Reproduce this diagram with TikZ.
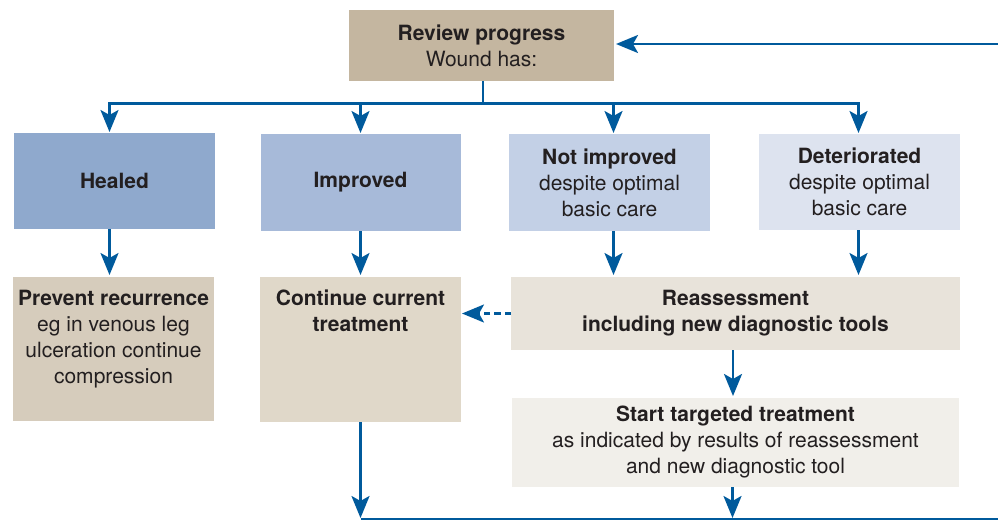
\documentclass[tikz,border=0pt]{standalone}
\usepackage{fontspec}
\setmainfont{TeX Gyre Heros}
\usetikzlibrary{arrows.meta,calc}

\definecolor{flowblue}{HTML}{005A9C}
\definecolor{ink}{HTML}{231F20}
\definecolor{reviewfill}{HTML}{C4B6A0}
\definecolor{healedfill}{HTML}{8FA9CD}
\definecolor{improvedfill}{HTML}{A7BAD9}
\definecolor{notimpfill}{HTML}{C3D0E6}
\definecolor{deterfill}{HTML}{DDE3EF}
\definecolor{preventfill}{HTML}{D6CCBC}
\definecolor{continuefill}{HTML}{E0D8C9}
\definecolor{reassessfill}{HTML}{E8E3DA}
\definecolor{startfill}{HTML}{F1EFEA}

\tikzset{
  box/.style={rectangle, inner sep=0pt, outer sep=0pt, align=center,
    text=ink, font=\fontsize{21}{26}\selectfont},
  label/.style={inner sep=0pt, outer sep=0pt, align=center,
    text=ink, font=\fontsize{21}{26}\selectfont},
  flow/.style={draw=flowblue, line width=2.6pt},
  arr/.style={flow, -{Stealth[length=22pt,width=18pt,inset=5pt]}},
  dasharr/.style={arr, dash pattern=on 6.5pt off 4pt}
}

\begin{document}
\begin{tikzpicture}[x=1pt,y=-1pt]
\useasboundingbox (0,0) rectangle (998,522);

% top box
\node[box, fill=reviewfill, minimum width=265pt, minimum height=71pt] (review) at (481.5,45.5)
  {\textbf{Review progress}\\Wound has:};

% outcome row
\node[box, fill=healedfill, minimum width=201pt, minimum height=96pt] (healed) at (114.5,181)
  {\textbf{Healed}};
\node[box, fill=improvedfill, minimum width=200pt, minimum height=97pt] (improved) at (360.5,182.5)
  {\textbf{Improved}};
\node[box, fill=notimpfill, minimum width=201pt, minimum height=97pt] (notimp) at (609.5,182.5)
  {\textbf{Not improved}\\despite optimal\\basic care};
\node[box, fill=deterfill, minimum width=201pt, minimum height=96pt] (deter) at (859.5,182)
  {\textbf{Deteriorated}\\despite optimal\\basic care};

% action row
\node[box, fill=preventfill, minimum width=201pt, minimum height=144pt] (prevent) at (113.5,349) {};
\node[label, anchor=north] (preventtxt) at ($(prevent.north)+(0,13)$)
  {\textbf{Prevent recurrence}\\eg in venous leg\\ulceration continue\\compression};
\node[box, fill=continuefill, minimum width=201pt, minimum height=145pt] (cont) at (360.5,349.5) {};
\node[label, anchor=north] (conttxt) at ($(cont.north)+(0,13)$)
  {\textbf{Continue current}\\\textbf{treatment}};
\node[box, fill=reassessfill, minimum width=449pt, minimum height=73pt] (reassess) at (735.5,313.5)
  {\textbf{Reassessment}\\\textbf{including new diagnostic tools}};
\node[box, fill=startfill, minimum width=447pt, minimum height=89pt] (start) at (735.5,442.5)
  {\textbf{Start targeted treatment}\\as indicated by results of reassessment\\and new diagnostic tool};

% branching from the review box
\coordinate (split) at ($(review.south)+(1.5,22.5)$);
\draw[flow] (review.south -| split) -- (split);
\draw[arr, shorten >=1pt] (split) -| ([xshift=-5pt]healed.north);
\draw[arr, shorten >=1pt] (split) -| (improved.north);
\draw[arr, shorten >=1pt] (split) -| ([xshift=4pt]notimp.north);
\draw[arr, shorten >=1pt] (split) -| ([xshift=-1pt]deter.north);

% outcome to action
\draw[arr, shorten >=2pt] ([xshift=-5pt]healed.south) -- ([xshift=-5pt]healed.south |- prevent.north);
\draw[arr, shorten >=2pt] (improved.south) -- (improved.south |- cont.north);
\draw[arr, shorten >=2pt] ([xshift=4pt]notimp.south) -- ([xshift=4pt]notimp.south |- reassess.north);
\draw[arr, shorten >=2pt] ([xshift=-1pt]deter.south) -- ([xshift=-1pt]deter.south |- reassess.north);

% reassessment paths
\draw[dasharr, shorten >=1pt] (reassess.west) -- (reassess.west -| cont.east);
\draw[arr, shorten >=2pt] ([xshift=-2.5pt]reassess.south) -- ([xshift=-2.5pt]reassess.south |- start.north);

% return loop to review
\coordinate (loopR) at (998,519);
\coordinate (loopT) at (998,44);
\draw[arr, shorten >=1pt] (cont.south) -- (cont.south |- loopR);
\draw[arr, shorten >=1pt] ([xshift=-3pt]start.south) -- ([xshift=-3pt]start.south |- loopR);
\draw[flow] (cont.south |- loopR) -- (loopR);
\draw[arr, shorten >=2pt] (loopT) -- (review.east |- loopT);
\end{tikzpicture}
\end{document}
